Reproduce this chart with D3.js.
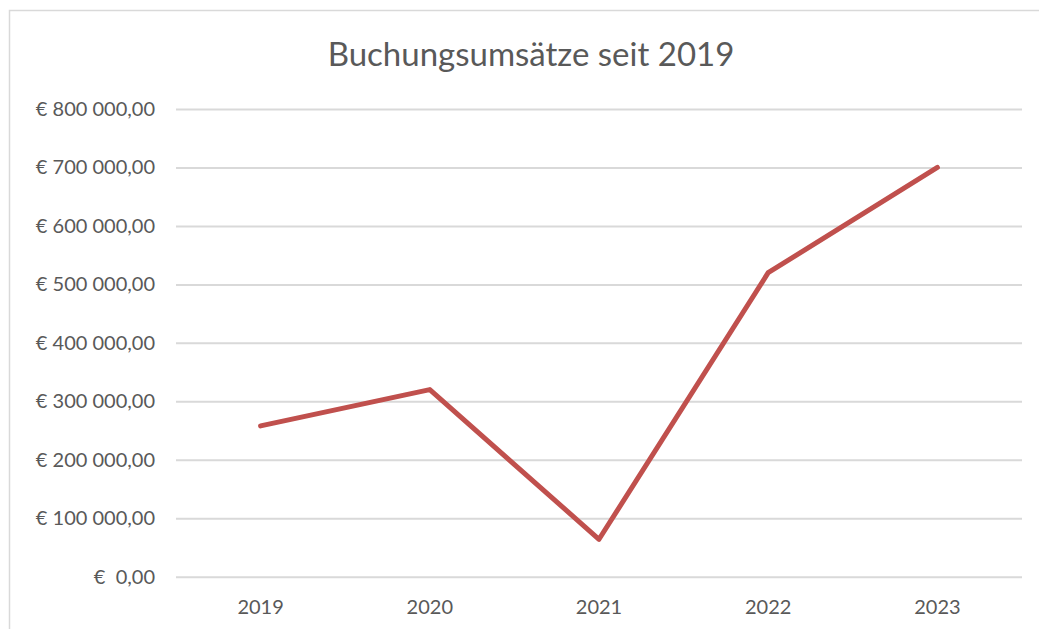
<!DOCTYPE html>
<html>
<head>
<meta charset="utf-8">
<script src="https://cdn.jsdelivr.net/npm/d3@7/dist/d3.min.js"></script>
<style>
  html, body { margin: 0; padding: 0; background: #fff; }
  svg { display: block; }
  text { font-family: Lato, "Open Sans", sans-serif; fill: #595959; }
</style>
</head>
<body>
<svg id="chart" width="1039" height="629"></svg>
<script>
// Yearly booking revenue
const years = ["2019", "2020", "2021", "2022", "2023"];
const revenue = [258000, 320000, 64000, 520000, 700000];
const yTicks = [0, 100000, 200000, 300000, 400000, 500000, 600000, 700000, 800000];
const title = "Buchungsumsätze seit 2019";

const svg = d3.select("#chart");
const W = 1039, H = 629;
const margin = { left: 176, right: 17, top: 109, bottom: 52 };

// chart frame
svg.append("rect")
  .attr("x", 9.5).attr("y", 10.5)
  .attr("width", W + 20).attr("height", H + 20)
  .attr("fill", "#fff").attr("stroke", "#d9d9d9").attr("stroke-width", 1.5);

const x = d3.scaleBand().domain(years).range([margin.left, W - margin.right]);
const y = d3.scaleLinear().domain([0, 800000]).range([H - margin.bottom - 0.3, margin.top]);

// number format: "€ 800 000,00"
const fmtNum = v => {
  const s = d3.format(",.2f")(v);
  return s.replace(/,/g, " ").replace(".", ",");
};
const fmt = v => v === 0 ? "€  0,00" : "€ " + fmtNum(v);

// gridlines + y labels
const yAxis = d3.axisLeft(y).tickValues(yTicks).tickFormat(fmt)
  .tickSize(-(W - margin.left - margin.right)).tickPadding(21);
const gy = svg.append("g").attr("transform", `translate(${margin.left},0)`).call(yAxis);
gy.select(".domain").remove();
gy.selectAll(".tick line").attr("stroke", "#d9d9d9").attr("stroke-width", 2);
gy.selectAll(".tick text").style("font-size", "20px").attr("fill", "#595959")
  .attr("xml:space", "preserve").style("white-space", "pre");

// x labels
const xAxis = d3.axisBottom(x).tickSize(0).tickPadding(23);
const gx = svg.append("g").attr("transform", `translate(0,${y(0)})`).call(xAxis);
gx.select(".domain").remove();
gx.selectAll(".tick text").style("font-size", "20px").attr("fill", "#595959");

// revenue line
const line = d3.line()
  .x((d, i) => x(years[i]) + x.bandwidth() / 2)
  .y(d => y(d));
svg.append("path")
  .datum(revenue)
  .attr("d", line)
  .attr("fill", "none")
  .attr("stroke", "#c0504d")
  .attr("stroke-width", 5)
  .attr("stroke-linecap", "round")
  .attr("stroke-linejoin", "round");

// title
svg.append("text")
  .attr("x", 531).attr("y", 66)
  .attr("text-anchor", "middle")
  .style("font-size", "33px")
  .attr("fill", "#595959")
  .text(title);
</script>
</body>
</html>
